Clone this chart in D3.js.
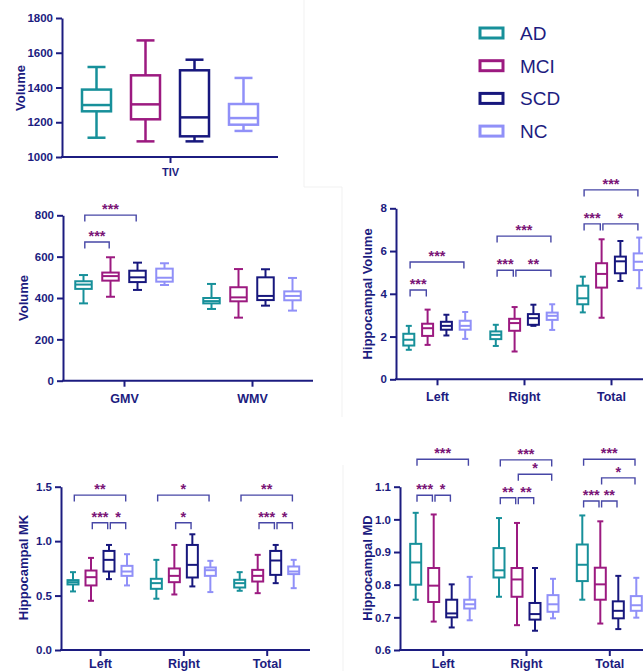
<!DOCTYPE html>
<html>
<head>
<meta charset="utf-8">
<script src="https://cdn.jsdelivr.net/npm/d3@7"></script>
<style>
  body { margin: 0; background: #fff; }
  svg text { font-family: "Liberation Sans", Arial, sans-serif; }
</style>
</head>
<body>
<svg id="fig" width="643" height="671"></svg>
<script>
const groups = ["AD", "MCI", "SCD", "NC"];
const groupColors = ["#17909a", "#9c1a80", "#17177d", "#9090f8"];

// box stats per category, per group: [min, q1, median, q3, max]
const tivCategories = ["TIV"];
const tivTicks = [1000, 1200, 1400, 1600, 1800];
const tivStats = [[
  [1111, 1263, 1299, 1388, 1518],
  [1090, 1217, 1303, 1470, 1671],
  [1090, 1119, 1228, 1499, 1560],
  [1150, 1186, 1224, 1305, 1455]
]];

const volCategories = ["GMV", "WMV"];
const volTicks = [0, 200, 400, 600, 800];
const volStats = [
  [[374, 444, 465, 481, 511], [406, 484, 506, 523, 597], [439, 477, 500, 532, 571], [463, 479, 498, 542, 568]],
  [[347, 374, 385, 400, 468], [305, 384, 403, 452, 540], [363, 390, 410, 500, 539], [339, 389, 410, 432, 497]]
];
// [category, from group, to group, label, level]
const volBrackets = [[0, 0, 2, "***", 801], [0, 0, 1, "***", 671]];

const hvCategories = ["Left", "Right", "Total"];
const hvTicks = [0, 2, 4, 6, 8];
const hvStats = [
  [[1.38, 1.58, 1.85, 2.13, 2.50], [1.61, 2.03, 2.39, 2.60, 3.26], [2.05, 2.32, 2.50, 2.69, 3.02], [1.89, 2.32, 2.50, 2.74, 3.15]],
  [[1.56, 1.88, 2.08, 2.24, 2.55], [1.30, 2.27, 2.63, 2.83, 3.38], [2.50, 2.55, 2.86, 3.05, 3.49], [2.31, 2.78, 2.97, 3.12, 3.51]],
  [[3.13, 3.51, 3.79, 4.38, 4.80], [2.88, 4.29, 4.93, 5.43, 6.55], [4.60, 4.96, 5.52, 5.74, 6.47], [4.26, 5.11, 5.50, 5.89, 6.63]]
];
const hvBrackets = [
  [0, 0, 3, "***", 5.49], [0, 0, 1, "***", 4.18],
  [1, 0, 3, "***", 6.70], [1, 0, 1, "***", 5.10], [1, 1, 3, "**", 5.10],
  [2, 0, 3, "***", 8.86], [2, 0, 1, "***", 7.27], [2, 1, 3, "*", 7.27]
];

const mkCategories = ["Left", "Right", "Total"];
const mkTicks = [0, 0.5, 1.0, 1.5];
const mkStats = [
  [[0.538, 0.602, 0.623, 0.642, 0.715], [0.452, 0.593, 0.669, 0.730, 0.846], [0.651, 0.721, 0.828, 0.910, 0.965], [0.593, 0.681, 0.721, 0.773, 0.880]],
  [[0.471, 0.562, 0.614, 0.654, 0.828], [0.510, 0.623, 0.681, 0.749, 0.965], [0.584, 0.666, 0.782, 0.965, 1.063], [0.532, 0.681, 0.733, 0.758, 0.819]],
  [[0.544, 0.574, 0.614, 0.645, 0.715], [0.522, 0.629, 0.681, 0.736, 0.874], [0.614, 0.690, 0.822, 0.910, 0.965], [0.568, 0.697, 0.721, 0.767, 0.828]]
];
const mkBrackets = [
  [0, 0, 3, "**", 1.423], [0, 1, 2, "***", 1.169], [0, 2, 3, "*", 1.169],
  [1, 0, 3, "*", 1.423], [1, 1, 2, "*", 1.169],
  [2, 0, 3, "**", 1.423], [2, 1, 2, "***", 1.169], [2, 2, 3, "*", 1.169]
];

const mdCategories = ["Left", "Right", "Total"];
const mdTicks = [0.6, 0.7, 0.8, 0.9, 1.0, 1.1];
const mdStats = [
  [[0.754, 0.800, 0.868, 0.925, 1.020], [0.687, 0.747, 0.797, 0.851, 1.015], [0.669, 0.700, 0.712, 0.754, 0.801], [0.691, 0.727, 0.740, 0.754, 0.824]],
  [[0.763, 0.822, 0.844, 0.912, 1.004], [0.676, 0.763, 0.816, 0.851, 0.989], [0.659, 0.693, 0.710, 0.744, 0.851], [0.697, 0.717, 0.740, 0.768, 0.818]],
  [[0.754, 0.811, 0.861, 0.923, 1.012], [0.681, 0.754, 0.801, 0.852, 0.994], [0.664, 0.697, 0.720, 0.749, 0.827], [0.699, 0.720, 0.737, 0.765, 0.821]]
];
const mdBrackets = [
  [0, 0, 3, "***", 1.184], [0, 0, 1, "***", 1.074], [0, 1, 2, "*", 1.074],
  [1, 0, 3, "***", 1.182], [1, 1, 3, "*", 1.138], [1, 0, 1, "**", 1.066], [1, 1, 2, "**", 1.066],
  [2, 0, 3, "***", 1.184], [2, 1, 3, "*", 1.127], [2, 0, 1, "***", 1.056], [2, 1, 2, "**", 1.056]
];

const navy = "#1c1c80";
const starColor = "#7a1577";
const bracketColor = "#4747a6";

const svg = d3.select("#fig");

// faint frame edges from the composited figure
const frameEdges = [[304, 0, 304, 187], [304, 187, 342, 187], [342, 187, 342, 417], [343, 465, 343, 671]];
svg.selectAll(".frame").data(frameEdges).enter().append("line")
  .attr("x1", d => d[0]).attr("y1", d => d[1]).attr("x2", d => d[2]).attr("y2", d => d[3])
  .attr("stroke", "#f1f1f1").attr("stroke-width", 1);

function drawPanel(p) {
  const g = svg.append("g");
  const y = d3.scaleLinear().domain(p.domain).range([p.bottom, p.top]);
  const x = d3.scalePoint().domain(p.categories).range(p.catRange);
  const off = d3.scalePoint().domain(groups).range([-p.spread, p.spread]);

  // y axis
  const ya = g.append("g").attr("transform", `translate(${p.left},0)`)
    .call(d3.axisLeft(y).tickValues(p.ticks).tickFormat(p.format).tickSize(6).tickPadding(3).tickSizeOuter(0));
  ya.select(".domain").attr("stroke", navy).attr("stroke-width", 2);
  ya.selectAll(".tick line").attr("stroke", navy).attr("stroke-width", 2);
  ya.selectAll(".tick text").attr("fill", navy).attr("font-size", 11.5).attr("font-weight", "bold")
    .attr("font-family", "Liberation Sans, Arial, sans-serif");

  // x axis
  const xa = g.append("g").attr("transform", `translate(0,${p.bottom})`)
    .call(d3.axisBottom(x).tickSize(6).tickPadding(p.labelPad).tickSizeOuter(0));
  xa.select(".domain").remove();
  xa.selectAll(".tick line").attr("stroke", navy).attr("stroke-width", 2);
  xa.selectAll(".tick text").attr("fill", navy).attr("font-size", p.catFont).attr("font-weight", "bold")
    .attr("font-family", "Liberation Sans, Arial, sans-serif");
  g.append("line").attr("x1", p.left - 1).attr("x2", p.right)
    .attr("y1", p.bottom).attr("y2", p.bottom).attr("stroke", navy).attr("stroke-width", 2);

  // axis title
  g.append("text")
    .attr("transform", `translate(${p.titleX},${p.titleY}) rotate(-90)`)
    .attr("dy", "0.35em").attr("text-anchor", "middle")
    .attr("font-size", 13).attr("font-weight", "bold").attr("fill", navy)
    .text(p.title);

  // boxes
  p.categories.forEach((cat, ci) => {
    groups.forEach((grp, gi) => {
      const s = p.stats[ci][gi];
      const cx = x(cat) + off(grp);
      const col = groupColors[gi];
      const bg = g.append("g").attr("stroke", col).attr("stroke-width", p.stroke).attr("fill", "none");
      bg.append("line").attr("x1", cx).attr("x2", cx).attr("y1", y(s[0])).attr("y2", y(s[4]));
      bg.append("line").attr("x1", cx - p.capW / 2).attr("x2", cx + p.capW / 2).attr("y1", y(s[0])).attr("y2", y(s[0]));
      bg.append("line").attr("x1", cx - p.capW / 2).attr("x2", cx + p.capW / 2).attr("y1", y(s[4])).attr("y2", y(s[4]));
      bg.append("rect").attr("x", cx - p.boxW / 2).attr("width", p.boxW)
        .attr("y", y(s[3])).attr("height", y(s[1]) - y(s[3])).attr("fill", "#fff");
      bg.append("line").attr("x1", cx - p.boxW / 2).attr("x2", cx + p.boxW / 2).attr("y1", y(s[2])).attr("y2", y(s[2]));
    });
  });

  // significance brackets
  (p.brackets || []).forEach(b => {
    const cat = p.categories[b[0]];
    const xa0 = x(cat) + off(groups[b[1]]) + 1.3;
    const xb0 = x(cat) + off(groups[b[2]]) - 1.3;
    const yl = y(b[4]);
    g.append("path")
      .attr("d", `M${xa0},${yl + 6.5}V${yl}H${xb0}V${yl + 6.5}`)
      .attr("fill", "none").attr("stroke", bracketColor).attr("stroke-width", 1.4);
    g.append("text")
      .attr("x", (xa0 + xb0) / 2).attr("y", yl - 1)
      .attr("text-anchor", "middle").attr("font-size", 14.5).attr("font-weight", "bold")
      .attr("fill", starColor)
      .text(b[3]);
  });
}

drawPanel({
  categories: tivCategories, stats: tivStats, ticks: tivTicks, format: d3.format("d"),
  domain: [1000, 1800], left: 62, right: 278, top: 18, bottom: 157,
  catRange: [170, 170], spread: 73.5, boxW: 29, capW: 18, stroke: 2.5,
  labelPad: 5, catFont: 11, title: "Volume", titleX: 20, titleY: 88
});

drawPanel({
  categories: volCategories, stats: volStats, ticks: volTicks, format: d3.format("d"),
  domain: [0, 800], left: 63, right: 313, top: 215.3, bottom: 380.7,
  catRange: [124, 252], spread: 40.5, boxW: 16.5, capW: 9, stroke: 2,
  labelPad: 7, catFont: 12.5, title: "Volume", titleX: 23, titleY: 298, brackets: volBrackets
});

drawPanel({
  categories: hvCategories, stats: hvStats, ticks: hvTicks, format: d3.format("d"),
  domain: [0, 8], left: 396, right: 650, top: 208.3, bottom: 379.3,
  catRange: [437, 611], spread: 28.2, boxW: 11, capW: 6, stroke: 2,
  labelPad: 7, catFont: 12.5, title: "Hippocampal Volume", titleX: 367, titleY: 294, brackets: hvBrackets
});

drawPanel({
  categories: mkCategories, stats: mkStats, ticks: mkTicks, format: d3.format(".1f"),
  domain: [0, 1.5], left: 61, right: 310, top: 486.7, bottom: 650,
  catRange: [100, 266.7], spread: 27, boxW: 11, capW: 6, stroke: 2,
  labelPad: 3.5, catFont: 12.5, title: "Hippocampal MK", titleX: 23, titleY: 567.5, brackets: mkBrackets
});

drawPanel({
  categories: mdCategories, stats: mdStats, ticks: mdTicks, format: d3.format(".1f"),
  domain: [0.6, 1.1], left: 400, right: 650, top: 486.7, bottom: 650,
  catRange: [442.7, 609.3], spread: 27, boxW: 11, capW: 6, stroke: 2,
  labelPad: 3.5, catFont: 12.5, title: "Hippocampal MD", titleX: 367, titleY: 568, brackets: mdBrackets
});

// legend
const legend = svg.append("g");
groups.forEach((grp, i) => {
  const cy = 33 + i * 32.7;
  legend.append("rect").attr("x", 480).attr("y", cy - 5).attr("width", 23).attr("height", 10)
    .attr("fill", "#fff").attr("stroke", groupColors[i]).attr("stroke-width", 3);
  legend.append("text").attr("x", 520).attr("y", cy + 7).attr("font-size", 19)
    .attr("fill", navy).text(grp);
});
</script>
</body>
</html>
